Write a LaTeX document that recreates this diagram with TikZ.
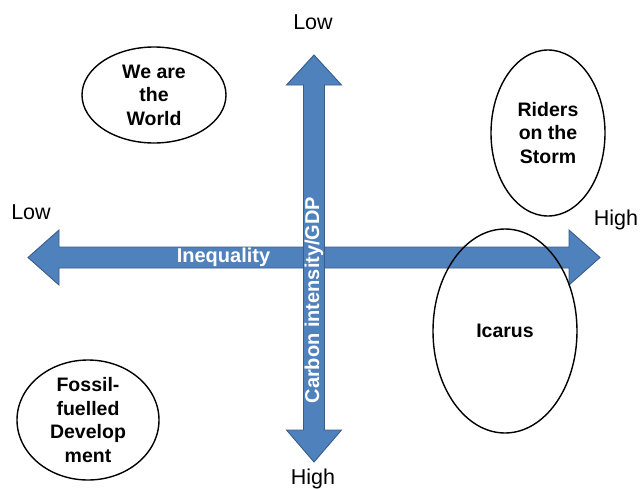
\documentclass[tikz,border=0pt]{standalone}
\usepackage{fontspec}
\setmainfont{Liberation Sans}
\usetikzlibrary{shapes.geometric}
\definecolor{flecheBleu}{RGB}{79,129,189}
\definecolor{bordBleu}{RGB}{56,93,138}
\begin{document}
\begin{tikzpicture}[x=1pt,y=-1pt]
  \tikzstyle{scenario}=[ellipse, draw=black, line width=1.4pt, inner sep=0pt,
  align=center, text=black, font=\fontsize{19.5}{23.5}\selectfont\bfseries]
  \tikzstyle{fleche}=[fill=flecheBleu, draw=bordBleu, line width=0.9pt, line join=miter]
  \tikzstyle{niveau}=[font=\fontsize{21.5}{24}\selectfont, inner sep=0pt]
  \tikzstyle{axe}=[text=white, inner sep=0pt, font=\fontsize{20}{22}\selectfont\bfseries]
  \useasboundingbox (0,0) rectangle (640,490);
  % inequality axis
  \draw[fleche] (28,257.5) -- (59,230) -- (59,247) -- (569,247) -- (569,230)
    -- (600,257.5) -- (569,285) -- (569,268) -- (59,268) -- (59,285) -- cycle;
  % carbon axis
  \draw[fleche] (314,55) -- (341.5,85) -- (324.5,85) -- (324.5,430) -- (341.5,430)
    -- (314,462) -- (286.5,430) -- (303.5,430) -- (303.5,85) -- (286.5,85) -- cycle;
  \node[axe] (inegalite) at (223.5,257.5) {Inequality};
  \node[axe, rotate=90] (carbone) at (314,300) {Carbon intensity/GDP};
  \foreach \n/\x/\y/\t in {bas/313/22/Low,haut/313/479/High,gauche/31/212/Low,droite/616/220/High} {
    \node[niveau] (\n) at (\x,\y) {\t};
  }
  \foreach \n/\x/\y/\w/\h/\t in {world/154/95/144/96/{We are\\the\\World},
      riders/548/133/114/166/{Riders\\on the\\Storm},
      icarus/505/331/144/204/{Icarus},
      fossil/88/420/142/120/{Fossil-\\fuelled\\Develop\\ment}} {
    \node[scenario, minimum width=\w pt, minimum height=\h pt] (\n) at (\x,\y) {\t};
  }
\end{tikzpicture}
\end{document}
